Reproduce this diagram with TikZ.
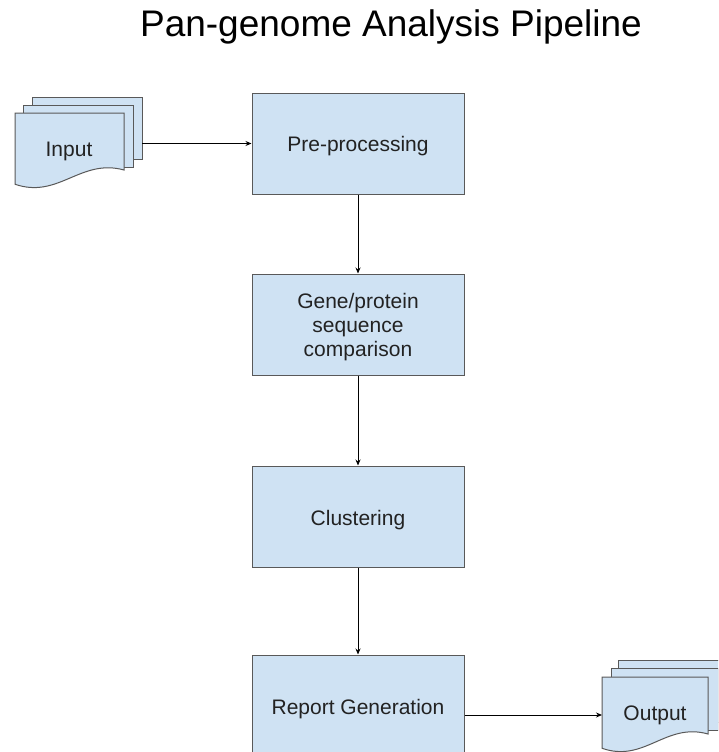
\documentclass[tikz,border=0pt]{standalone}
\usepackage{fontspec}
\setmainfont{Liberation Sans}
\usetikzlibrary{arrows.meta}
\definecolor{boxfill}{HTML}{CFE2F3}
\definecolor{boxline}{HTML}{595959}
\definecolor{txt}{HTML}{222222}
\tikzset{
  stepbox/.style={draw=boxline, fill=boxfill, line width=1pt, minimum width=212pt,
    text=txt, font=\fontsize{21}{24}\selectfont, inner sep=0pt},
  sheet/.style={draw=boxline, fill=boxfill, line width=1pt},
  arr/.style={-{Stealth[length=6pt,width=5pt]}, line width=0.9pt, black},
  doclabel/.style={text=txt, font=\fontsize{21}{24}\selectfont, inner sep=0pt}
}
% lower the content of a node by half of #1
\newcommand\lowerby[2]{\raisebox{0pt}[\dimexpr\height+#1\relax][\depth]{#2}}
% document path: left, top, width, height
\newcommand\mydocpath[4]{({#1},{#2}) -- ({#1+#3},{#2}) -- ({#1+#3},{#2+0.76*#4})
  .. controls ({#1+0.6*#3},{#2+0.6*#4}) and ({#1+0.4*#3},{#2+1.15*#4}) .. ({#1},{#2+0.95*#4}) -- cycle}
\begin{document}
\begin{tikzpicture}[x=1pt,y=-1pt]
\clip (0,0) rectangle (718,752);
\fill[white] (0,0) rectangle (718,752);
% title
\node[anchor=base, text=black, font=\fontsize{37}{40}\selectfont, inner sep=0pt] (title) at (391,37) {Pan-genome Analysis Pipeline};
% boxes
\node[stepbox, minimum height=101pt] (pre) at (358,143.5) {\lowerby{6pt}{Pre-processing}};
\node[stepbox, minimum height=101pt] (gene) at (358,324.5) {\lowerby{7pt}{\begin{tabular}{@{}c@{}}Gene/protein\\sequence\\comparison\end{tabular}}};
\node[stepbox, minimum height=101pt] (clu) at (358,516.5) {\lowerby{8pt}{Clustering}};
\node[stepbox, minimum height=104pt] (rep) at (358,707) {\lowerby{5pt}{Report Generation}};
% input documents
\draw[sheet] (32,97) rectangle (142,159);
\draw[sheet] (23,105) rectangle (133,167);
\draw[sheet] \mydocpath{15}{113}{109}{75};
\node[doclabel] (input) at (69,151) {Input};
\coordinate (inback) at (142,143.5);
% output documents
\draw[sheet] (618,660) rectangle (728,722);
\draw[sheet] (611,668) rectangle (718,730);
\draw[sheet] \mydocpath{602}{677}{106}{75};
\node[doclabel] (output) at (655,715) {Output};
\coordinate (outfront) at (602,715);
% connectors
\draw[arr] (inback) -- (pre.west);
\draw[arr] (pre) -- (gene);
\draw[arr] (gene) -- (clu);
\draw[arr] (clu) -- (rep);
\draw[arr] (rep.east |- outfront) -- (outfront);
\end{tikzpicture}
\end{document}
